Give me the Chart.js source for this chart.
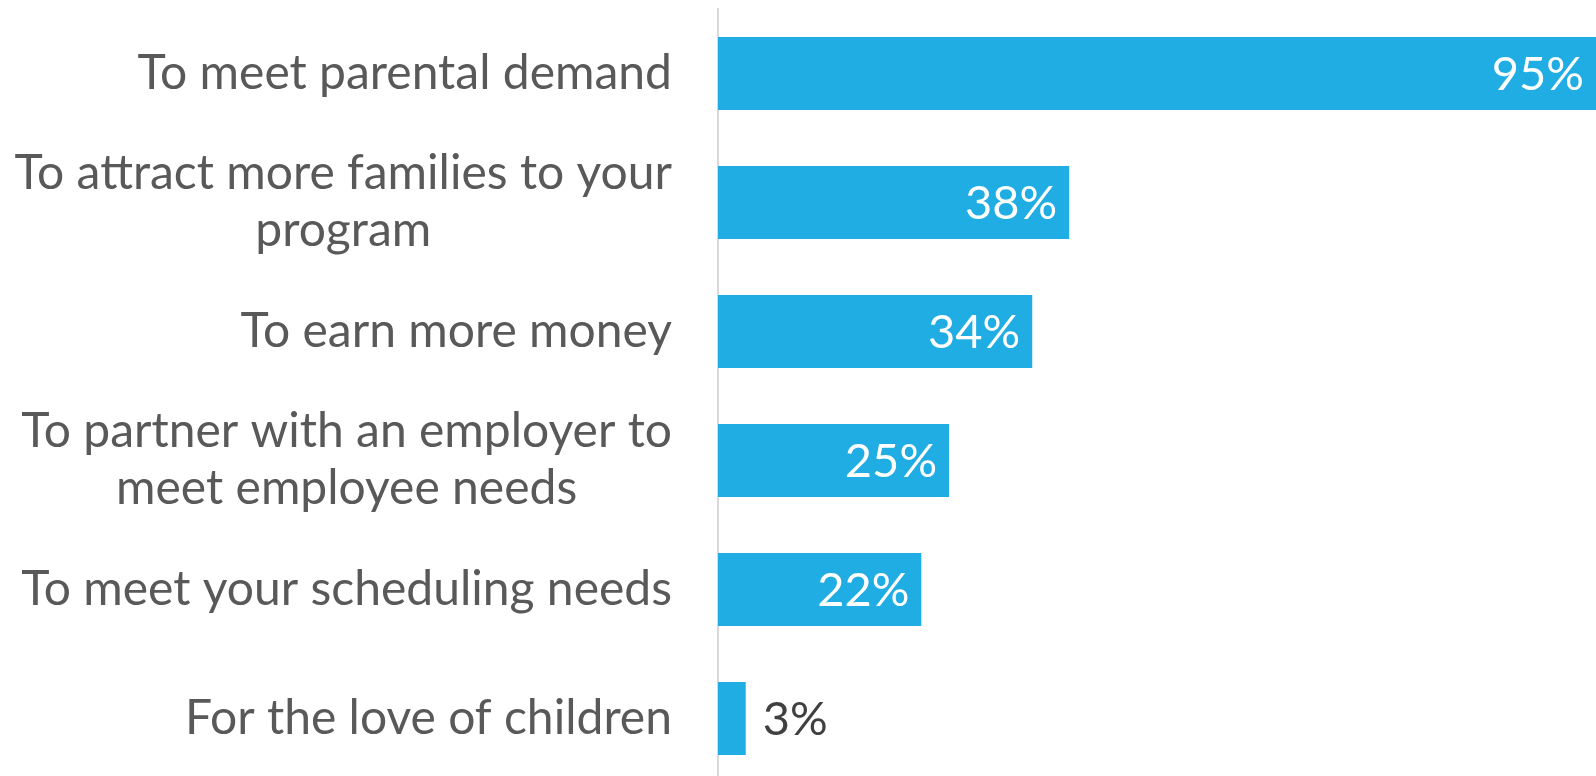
<!DOCTYPE html>
<html>
<head>
<meta charset="utf-8">
<script src="https://cdn.jsdelivr.net/npm/chart.js@4.4.1/dist/chart.umd.min.js"></script>
<style>
  html, body { margin: 0; padding: 0; background: #fff; overflow: hidden; }
  #wrap { position: relative; width: 1596px; height: 783px; }
</style>
</head>
<body>
<div id="wrap"><canvas id="reasons-chart"></canvas></div>
<script>
// reasons for offering care, share of respondents
const categories = [
  ['To meet parental demand'],
  ['To attract more families to your', 'program'],
  ['To earn more money'],
  ['To partner with an employer to', 'meet employee needs'],
  ['To meet your scheduling needs'],
  ['For the love of children']
];
const percents = [95, 38, 34, 25, 22, 3];

const FONT = 'Lato, "Open Sans", sans-serif';
const barColor = '#1FADE3';

// category labels: right aligned block, lines centred inside the block
const categoryLabels = {
  id: 'categoryLabels',
  afterDraw(chart) {
    const ctx = chart.ctx;
    const yScale = chart.scales.y;
    const right = chart.chartArea.left - 46;
    const lineH = 57;
    ctx.save();
    ctx.font = '48px ' + FONT;
    ctx.fillStyle = '#595959';
    ctx.textAlign = 'center';
    ctx.textBaseline = 'middle';
    categories.forEach((lines, i) => {
      const y = yScale.getPixelForValue(i);
      const blockW = Math.max(...lines.map(l => ctx.measureText(l).width));
      const cx = right - blockW / 2;
      lines.forEach((line, j) => {
        ctx.fillText(line, cx, y + (j - (lines.length - 1) / 2) * lineH);
      });
    });
    ctx.restore();
  }
};

// value labels at the end of each bar
const valueLabels = {
  id: 'valueLabels',
  afterDatasetsDraw(chart) {
    const ctx = chart.ctx;
    const meta = chart.getDatasetMeta(0);
    ctx.save();
    ctx.font = '47px ' + FONT;
    ctx.textBaseline = 'middle';
    meta.data.forEach((bar, i) => {
      const text = percents[i] + '%';
      const w = ctx.measureText(text).width;
      const barW = bar.x - bar.base;
      if (barW > w + 24) {
        ctx.fillStyle = '#ffffff';
        ctx.textAlign = 'right';
        ctx.fillText(text, bar.x - 12, bar.y + 1);
      } else {
        ctx.fillStyle = '#404040';
        ctx.textAlign = 'left';
        ctx.fillText(text, bar.x + 17, bar.y + 1);
      }
    });
    ctx.restore();
  }
};

new Chart(document.getElementById('reasons-chart'), {
  type: 'bar',
  data: {
    labels: categories,
    datasets: [{
      data: percents,
      backgroundColor: barColor,
      borderWidth: 0,
      barPercentage: 0.567,
      categoryPercentage: 1
    }]
  },
  options: {
    indexAxis: 'y',
    responsive: true,
    maintainAspectRatio: false,
    animation: false,
    layout: { padding: { top: 9, right: 0, bottom: 0, left: 0 } },
    plugins: {
      legend: { display: false },
      tooltip: { enabled: false }
    },
    scales: {
      x: {
        display: false,
        min: 0,
        max: 95
      },
      y: {
        grid: { display: false },
        border: { display: true, color: '#D9D9D9', width: 2 },
        ticks: { display: false },
        afterFit(scale) { scale.width = 718; }
      }
    }
  },
  plugins: [categoryLabels, valueLabels]
});
</script>
</body>
</html>
